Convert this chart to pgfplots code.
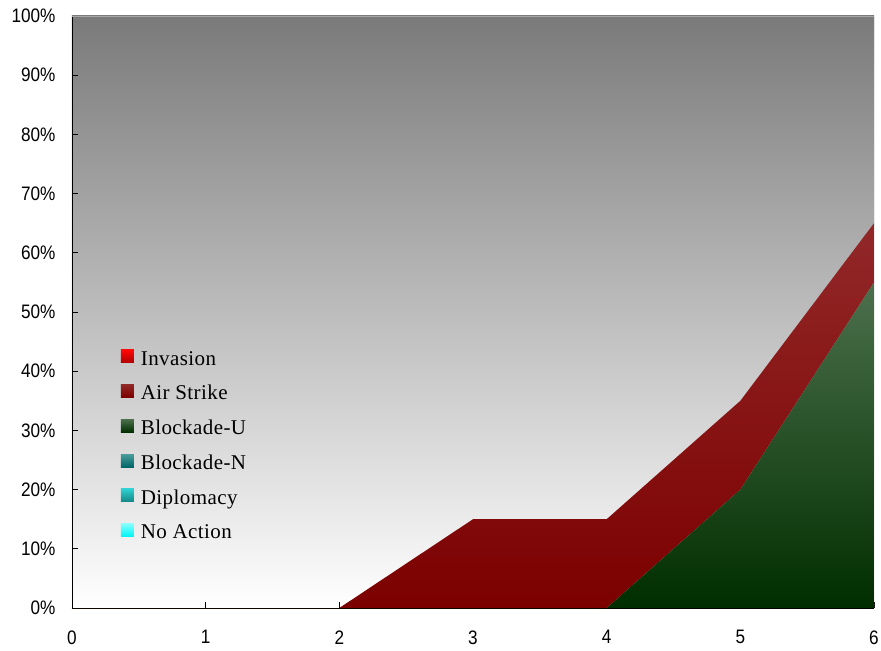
\documentclass[border=0pt]{standalone}
\usepackage{fontspec}
\setmainfont{Liberation Sans}
\newfontfamily\tickfont[FakeStretch=0.88]{Liberation Sans}
\newfontfamily\legfont[LetterSpace=2]{Liberation Serif}
\usepackage{pgfplots}
\pgfplotsset{compat=1.18}

\definecolor{bgtop}{HTML}{7A7A7A}
\definecolor{invT}{HTML}{FF0808}
\definecolor{invB}{HTML}{B00000}
\definecolor{airT}{HTML}{922828}
\definecolor{airB}{HTML}{7C0000}
\definecolor{bluT}{HTML}{4C704C}
\definecolor{bluB}{HTML}{002E00}
\definecolor{blnT}{HTML}{4A9C9C}
\definecolor{blnB}{HTML}{006666}
\definecolor{dipT}{HTML}{30D0D0}
\definecolor{dipB}{HTML}{138585}
\definecolor{noaT}{HTML}{88FFFF}
\definecolor{noaB}{HTML}{00F4F4}

\pgfplotsset{
  swatch/.style 2 args={
    legend image code/.code={
      \path[top color=#1, bottom color=#2] (0bp,-4bp) rectangle (13bp,9bp);
    }
  }
}

\begin{document}
\begin{tikzpicture}
\begin{axis}[
  scale only axis, width=802bp, height=592bp,
  xmin=0, xmax=6, ymin=0, ymax=100,
  axis x line*=bottom, axis y line*=left,
  axis line style={black, line width=0.8bp},
  xtick={0,...,6}, ytick={0,10,...,100},
  tick align=inside, major tick length=6bp,
  tick style={black, line width=0.8bp},
  yticklabel={\pgfmathprintnumber{\tick}\%},
  /pgf/number format/assume math mode=true,
  ticklabel style={font=\tickfont\fontsize{19.5bp}{22bp}\selectfont},
  yticklabel style={xshift=-13bp},
  xticklabel style={yshift=-19bp},
  axis background/.style={top color=bgtop, bottom color=white},
  stack plots=y,
  reverse legend,
  legend cell align=left,
  legend style={at={(0.057,0.441)}, anchor=north west, draw=none, fill=none,
    font=\legfont\fontsize{21bp}{24bp}\selectfont, row sep=14.8bp,
    /tikz/every odd column/.append style={column sep=5bp}},
]
% stacked from the bottom series upward
\addplot[draw=none, fill=none, swatch={noaT}{noaB}]
  coordinates {(0,0) (1,0) (2,0) (3,0) (4,0) (5,0) (6,0)} \closedcycle;
\addlegendentry{No Action}
\addplot[draw=none, fill=none, swatch={dipT}{dipB}]
  coordinates {(0,0) (1,0) (2,0) (3,0) (4,0) (5,0) (6,0)} \closedcycle;
\addlegendentry{Diplomacy}
\addplot[draw=none, fill=none, swatch={blnT}{blnB}]
  coordinates {(0,0) (1,0) (2,0) (3,0) (4,0) (5,0) (6,0)} \closedcycle;
\addlegendentry{Blockade-N}
\addplot[draw=none, top color=bluT, bottom color=bluB, swatch={bluT}{bluB}]
  coordinates {(0,0) (1,0) (2,0) (3,0) (4,0) (5,20) (6,55)} \closedcycle;
\addlegendentry{Blockade-U}
\addplot[draw=none, top color=airT, bottom color=airB, swatch={airT}{airB}]
  coordinates {(0,0) (1,0) (2,0) (3,15) (4,15) (5,15) (6,10)} \closedcycle;
\addlegendentry{Air Strike}
\addplot[draw=none, fill=none, swatch={invT}{invB}]
  coordinates {(0,0) (1,0) (2,0) (3,0) (4,0) (5,0) (6,0)} \closedcycle;
\addlegendentry{Invasion}

\draw[color=black!35, line width=0.8bp]
  (rel axis cs:0,1) -- (rel axis cs:1,1) -- (rel axis cs:1,0);
\coordinate (ll) at (rel axis cs:0,0);
\coordinate (ur) at (rel axis cs:1,1);
\end{axis}
\pgfresetboundingbox
\path ([shift={(-72bp,-43bp)}]ll) rectangle ([shift={(7bp,16bp)}]ur);
\end{tikzpicture}
\end{document}
